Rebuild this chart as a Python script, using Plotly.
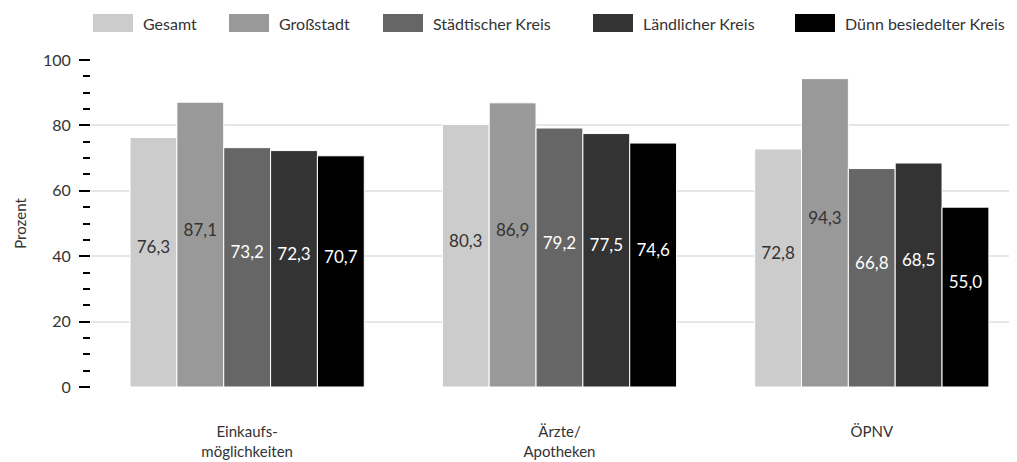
import plotly.graph_objects as go

categories = ["Einkaufs-<br>möglichkeiten", "Ärzte/<br>Apotheken", "ÖPNV"]
series_names = ["Gesamt", "Großstadt", "Städtischer Kreis", "Ländlicher Kreis", "Dünn besiedelter Kreis"]
gesamt = [76.3, 80.3, 72.8]
grossstadt = [87.1, 86.9, 94.3]
staedtisch = [73.2, 79.2, 66.8]
laendlich = [72.3, 77.5, 68.5]
duenn = [70.7, 74.6, 55.0]
series_values = [gesamt, grossstadt, staedtisch, laendlich, duenn]
y_ticks = [0, 20, 40, 60, 80, 100]

colors = ["#cccccc", "#999999", "#666666", "#333333", "#000000"]
text_colors = ["#333333", "#333333", "#ffffff", "#ffffff", "#ffffff"]
FONT = "Lato"

# page body has an 8px default margin; figure sized to fit the window
OFF = 8
W, H = 1017 - OFF, 462 - OFF
L, R, T, B = 91 - OFF, 0, 60 - OFF, 462 - 387
bar_w = 0.15

fig = go.Figure()
n = len(series_names)
for s, (name, vals) in enumerate(zip(series_names, series_values)):
    xs = [i + (s - (n - 1) / 2) * bar_w for i in range(len(categories))]
    fig.add_trace(go.Bar(
        x=xs, y=vals, width=bar_w, name=name, showlegend=False,
        marker=dict(color=colors[s], line=dict(color="white", width=1)),
        hoverinfo="y",
    ))
    fig.add_trace(go.Scatter(
        x=xs, y=[v / 2 + 4 for v in vals], mode="text",
        text=[f"{v:.1f}".replace(".", ",") for v in vals],
        textfont=dict(family=FONT, size=17, color=text_colors[s]),
        showlegend=False, hoverinfo="skip",
    ))

# manual legend (window pixel positions -> paper)
def px_x(px):
    return (px - OFF - L) / (W - L - R)

def px_y(py):
    return (H - B - (py - OFF)) / (H - T - B)

legend_swatch_x = [93, 229, 383, 593, 795]
sw_w, sw_top, sw_bot = 40, 14, 32
for k, name in enumerate(series_names):
    x0 = legend_swatch_x[k]
    fig.add_shape(type="rect", xref="paper", yref="paper",
                  x0=px_x(x0), x1=px_x(x0 + sw_w), y0=px_y(sw_bot), y1=px_y(sw_top),
                  fillcolor=colors[k], line=dict(width=0), layer="above")
    fig.add_annotation(xref="paper", yref="paper", x=px_x(x0 + sw_w + 8), y=px_y((sw_top + sw_bot) / 2),
                       text=name, showarrow=False, xanchor="left", yanchor="middle",
                       font=dict(family=FONT, size=16, color="#333333"))

fig.update_layout(
    width=W, height=H,
    margin=dict(l=L, r=R, t=T, b=B, autoexpand=False),
    paper_bgcolor="white", plot_bgcolor="white",
    font=dict(family=FONT, size=16, color="#333333"),
    barmode="overlay",
    xaxis=dict(
        range=[-0.5, 2.465], tickvals=list(range(len(categories))), ticktext=categories,
        showgrid=False, zeroline=False, showline=False, ticks="",
        tickfont=dict(family=FONT, size=15, color="#333333"),
        ticklabelstandoff=34, automargin=False,
    ),
    yaxis=dict(
        range=[0, 100], tickvals=y_ticks, showgrid=True, gridcolor="#e6e6e6", gridwidth=1.5,
        zeroline=False, showline=False, automargin=False,
        ticks="outside", ticklen=11, tickwidth=2, tickcolor="black",
        minor=dict(dtick=5, ticks="outside", ticklen=7, tickwidth=2, tickcolor="black", showgrid=False),
        ticklabelstandoff=5,
        tickfont=dict(family=FONT, size=16, color="#333333"),
        title=dict(text="Prozent", font=dict(family=FONT, size=15, color="#333333"), standoff=12),
    ),
)

fig.write_html("out.html")
